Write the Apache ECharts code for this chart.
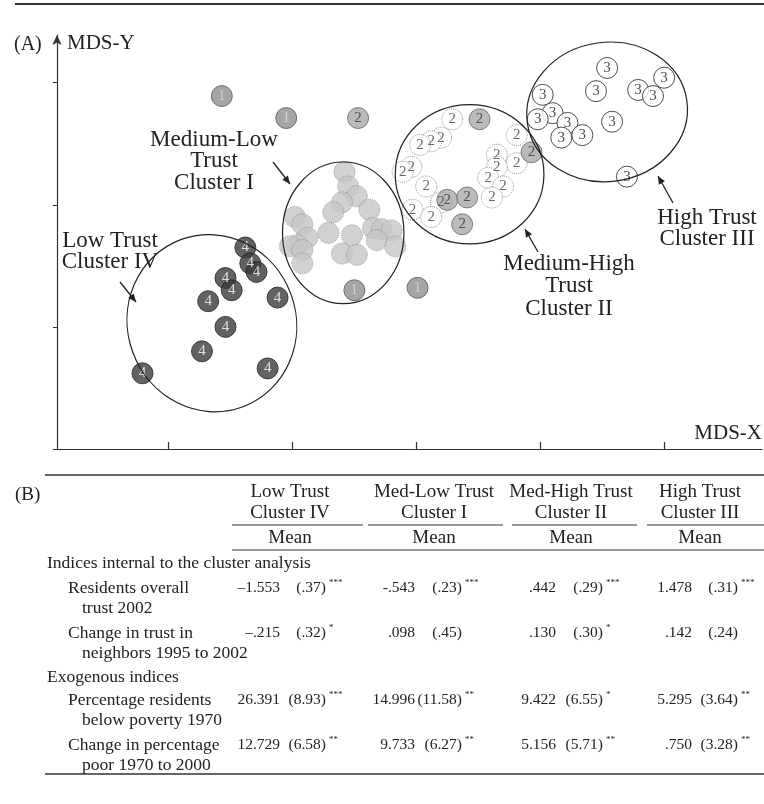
<!DOCTYPE html>
<html>
<head>
<meta charset="utf-8">
<script src="https://cdn.jsdelivr.net/npm/echarts@6/dist/echarts.min.js"></script>
<style>
  html, body { margin: 0; padding: 0; background: #fff; }
  #chart { width: 764px; height: 804px; }
</style>
</head>
<body>
<div id="chart"></div>
<script>
// panel A, MDS coordinates (1 unit = one tick step)
const lowTrustPts = [
  [1.52, 1.65], [1.56, 1.52], [1.61, 1.45], [1.36, 1.40], [1.41, 1.30], [1.22, 1.21],
  [1.78, 1.24], [1.36, 1.00], [1.17, 0.80], [0.69, 0.62], [1.70, 0.66]
]
const medLowPts = [
  [2.32, 2.27], [2.35, 2.15], [2.42, 2.07], [2.30, 2.02], [2.23, 1.94], [2.52, 1.96],
  [1.92, 1.90], [1.98, 1.84], [2.19, 1.77], [2.38, 1.75], [2.55, 1.81], [2.62, 1.80],
  [2.70, 1.79], [2.58, 1.71], [2.02, 1.73], [1.94, 1.67], [1.88, 1.66], [1.98, 1.63],
  [2.73, 1.66], [2.30, 1.60], [2.42, 1.59], [1.98, 1.52]
]
const oneLabelPts = [[1.33, 2.89], [1.85, 2.71], [2.40, 1.30], [2.91, 1.32]]
const medHighPts = [
  [3.19, 2.70], [3.10, 2.55], [3.02, 2.52], [2.93, 2.49], [3.71, 2.57], [3.55, 2.41],
  [3.71, 2.34], [3.55, 2.31], [2.86, 2.31], [2.79, 2.27], [2.98, 2.15], [3.48, 2.22],
  [3.60, 2.15], [3.51, 2.06], [3.10, 2.02], [2.87, 1.96], [3.02, 1.90]
]
const medHighGrayPts = [[3.41, 2.70], [3.83, 2.43], [3.15, 2.04], [3.31, 2.06], [3.27, 1.84], [2.43, 2.71]]
const highTrustPts = [
  [4.44, 3.12], [4.90, 3.04], [4.35, 2.93], [4.69, 2.94], [4.81, 2.89], [3.92, 2.90],
  [4.00, 2.75], [3.88, 2.70], [4.12, 2.67], [4.48, 2.68], [4.24, 2.57], [4.07, 2.55],
  [4.60, 2.23]
]
// cluster outlines: cx, cy, rx, ry, tilt (deg)
const ellipses = [
  [1.25, 1.03, 0.68, 0.73, 20],
  [2.31, 1.77, 0.49, 0.58, 0],
  [3.33, 2.25, 0.60, 0.57, 0],
  [4.44, 2.76, 0.65, 0.57, 8]
]
const xTicks = [0.9, 1.9, 2.9, 3.9, 4.9]
const yTicks = [0, 1, 2, 3]

// panel B
const clusterNames = [['Low Trust', 'Cluster IV'], ['Med-Low Trust', 'Cluster I'], ['Med-High Trust', 'Cluster II'], ['High Trust', 'Cluster III']]
const rowLabels = [
  ['Residents overall', 'trust 2002'],
  ['Change in trust in', 'neighbors 1995 to 2002'],
  ['Percentage residents', 'below poverty 1970'],
  ['Change in percentage', 'poor 1970 to 2000']
]
const lowMean = ['\u20131.553', '\u2013.215', '26.391', '12.729']
const lowSE = ['(.37)', '(.32)', '(8.93)', '(6.58)']
const lowSig = ['***', '*', '***', '**']
const medLowMean = ['-.543', '.098', '14.996', '9.733']
const medLowSE = ['(.23)', '(.45)', '(11.58)', '(6.27)']
const medLowSig = ['***', '', '**', '**']
const medHighMean = ['.442', '.130', '9.422', '5.156']
const medHighSE = ['(.29)', '(.30)', '(6.55)', '(5.71)']
const medHighSig = ['***', '*', '*', '**']
const highMean = ['1.478', '.142', '5.295', '.750']
const highSE = ['(.31)', '(.24)', '(3.64)', '(3.28)']
const highSig = ['***', '', '**', '**']

const SERIF = '"Liberation Serif", "Times New Roman", serif'
const INK = '#222'

function pts(data, num, fill, border, textColor, dotted) {
  return {
    type: 'scatter',
    data,
    symbolSize: 21,
    z: 3,
    itemStyle: { color: fill, borderColor: border, borderWidth: 1, borderType: dotted ? 'dotted' : 'solid' },
    label: {
      show: !!num, position: 'inside', formatter: num || '',
      color: textColor, fontFamily: SERIF, fontSize: 15
    }
  }
}

function txt(x, y, s, size, align, extra) {
  return {
    type: 'text', x, y, z: 10,
    style: Object.assign({
      text: s, font: size + 'px ' + SERIF, fill: INK,
      textAlign: align || 'left', align: align || 'left',
      textVerticalAlign: 'middle', verticalAlign: 'middle'
    }, extra || {})
  }
}

function hline(x1, x2, y, w) {
  return { type: 'line', z: 10, shape: { x1, y1: y, x2, y2: y }, style: { stroke: '#333', lineWidth: w } }
}

function arrow(x1, y1, x2, y2) {
  const a = Math.atan2(y2 - y1, x2 - x1), h = 8, w = 3.5
  const c = Math.cos(a), s = Math.sin(a)
  return [
    { type: 'line', z: 10, shape: { x1, y1, x2, y2 }, style: { stroke: INK, lineWidth: 1.3 } },
    { type: 'polygon', z: 10, shape: { points: [[x2, y2], [x2 - h * c + w * s, y2 - h * s - w * c], [x2 - h * c - w * s, y2 - h * s + w * c]] }, style: { fill: INK } }
  ]
}

const graphics = []
graphics.push(hline(15, 764, 4, 2))
graphics.push(txt(14, 45, '(A)', 20))
graphics.push(txt(67, 43, 'MDS-Y', 21))
graphics.push(txt(762, 433, 'MDS-X', 21, 'right'))
// cluster captions
graphics.push(txt(214, 161, 'Medium-Low\nTrust\nCluster I', 23, 'center', { lineHeight: 21.5 }))
graphics.push(txt(110, 251, 'Low Trust\nCluster IV', 23, 'center', { lineHeight: 21 }))
graphics.push(txt(569, 286, 'Medium-High\nTrust\nCluster II', 23, 'center', { lineHeight: 22.5 }))
graphics.push(txt(707, 228, 'High Trust\nCluster III', 23, 'center', { lineHeight: 21 }))
graphics.push(...arrow(273, 162, 290, 184))
graphics.push(...arrow(120, 282, 136, 302))
graphics.push(...arrow(538, 252, 525, 229))
graphics.push(...arrow(673, 203, 658, 176))

// panel B table
const colCenter = [290, 434, 571, 700]
const meanRight = [280, 415, 556, 692]
const seRight = [326, 462, 603, 738]
const underlines = [[232, 363], [368, 503], [512, 637], [647, 764]]
const means = [lowMean, medLowMean, medHighMean, highMean]
const ses = [lowSE, medLowSE, medHighSE, highSE]
const sigs = [lowSig, medLowSig, medHighSig, highSig]
const rowY = [588, 633, 700, 745]

graphics.push(hline(45, 764, 475, 1.6))
graphics.push(txt(15, 495, '(B)', 19))
clusterNames.forEach((n, i) => {
  graphics.push(txt(colCenter[i], 492, n[0], 19, 'center'))
  graphics.push(txt(colCenter[i], 513, n[1], 19, 'center'))
  graphics.push(hline(underlines[i][0], underlines[i][1], 525, 1))
  graphics.push(txt(colCenter[i], 538, 'Mean', 19, 'center'))
})
graphics.push(hline(232, 764, 550, 1))
graphics.push(txt(47, 563, 'Indices internal to the cluster analysis', 17.5))
graphics.push(txt(47, 677, 'Exogenous indices', 17.5))
rowLabels.forEach((r, j) => {
  graphics.push(txt(68, rowY[j], r[0], 17.5))
  graphics.push(txt(82, rowY[j] + 20, r[1], 17.5))
  for (let i = 0; i < 4; i++) {
    graphics.push(txt(meanRight[i], rowY[j], means[i][j], 15.5, 'right'))
    graphics.push(txt(seRight[i], rowY[j], ses[i][j], 15.5, 'right'))
    if (sigs[i][j]) graphics.push(txt(seRight[i] + 3, rowY[j] - 5, sigs[i][j], 9))
  }
})
graphics.push(hline(45, 764, 774, 1.6))

const chart = echarts.init(document.getElementById('chart'))
chart.setOption({
  animation: false,
  backgroundColor: '#fff',
  grid: { left: 57, right: 2, top: 35, bottom: 355 },
  xAxis: {
    type: 'value', min: 0, max: 5.69,
    splitLine: { show: false },
    axisLabel: { show: false },
    axisLine: { lineStyle: { color: '#333', width: 1.2 } },
    axisTick: { inside: true, length: 7, customValues: xTicks, lineStyle: { color: '#333', width: 1.2 } }
  },
  yAxis: {
    type: 'value', min: 0, max: 3.39,
    splitLine: { show: false },
    axisLabel: { show: false },
    axisLine: { symbol: ['none', 'arrow'], symbolSize: [7, 10], lineStyle: { color: '#333', width: 1.2 } },
    axisTick: { length: 4, customValues: yTicks, lineStyle: { color: '#333' } }
  },
  series: [
    pts(lowTrustPts, '4', '#3b3b3b', '#222', '#fff', false),
    pts(medLowPts, '', '#c6c6c6', '#858585', '#666', true),
    pts(oneLabelPts, '1', '#8f8f8f', '#555', '#ddd', false),
    pts(medHighPts, '2', '#fff', '#777', '#444', true),
    pts(medHighGrayPts, '2', '#a9a9a9', '#666', '#333', false),
    pts(highTrustPts, '3', '#fff', '#222', '#222', false),
    {
      type: 'custom',
      data: ellipses,
      z: 4,
      silent: true,
      renderItem: (params, api) => {
        const c = api.coord([api.value(0), api.value(1)])
        const s = api.size([api.value(2), api.value(3)])
        return {
          type: 'ellipse',
          x: c[0], y: c[1],
          rotation: api.value(4) * Math.PI / 180,
          shape: { cx: 0, cy: 0, rx: s[0], ry: s[1] },
          style: { fill: 'none', stroke: INK, lineWidth: 1.2 }
        }
      }
    }
  ],
  graphic: graphics
})
</script>
</body>
</html>
